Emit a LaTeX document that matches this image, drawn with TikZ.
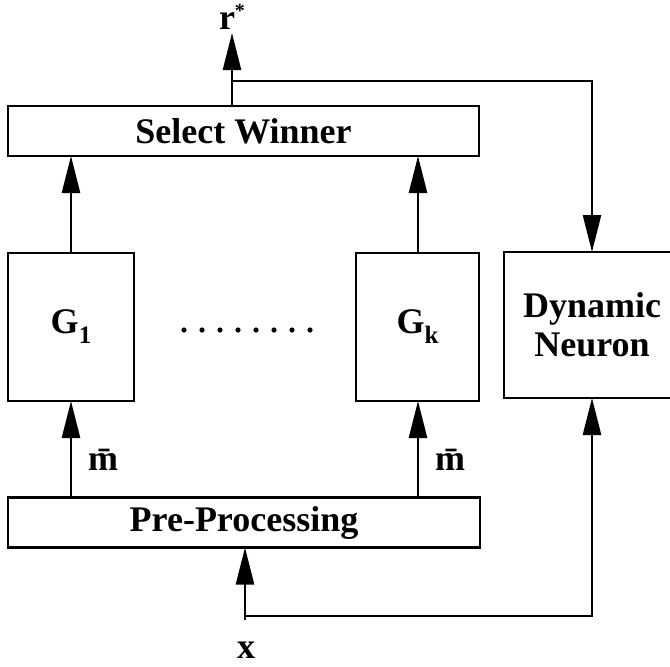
\documentclass[tikz,border=0pt]{standalone}
\usepackage{fontspec}
\setmainfont{Liberation Serif}
\usetikzlibrary{arrows.meta}
\newcommand\subidx[1]{\raisebox{-0.28em}{\fontsize{25}{25}\selectfont #1}}
\begin{document}
\begin{tikzpicture}[x=1pt,y=-1pt,
  box/.style={draw, line width=2.6pt, inner sep=0pt, outer sep=0pt,
    font=\bfseries\fontsize{36}{39}\selectfont, align=center},
  flow/.style={line width=2.6pt, -{Triangle[length=37pt,width=18pt]}},
  wire/.style={line width=2.6pt},
  lbl/.style={font=\bfseries\fontsize{36}{39}\selectfont, inner sep=0pt}]
\useasboundingbox (0,0) rectangle (670,667);

% blocks
\node[box, minimum width=471pt, minimum height=50pt] (sw) at (243.5,131) {Select Winner};
\node[box, minimum width=126pt, minimum height=148pt] (g1) at (71,327) {G\subidx{1}};
\node[box, minimum width=123pt, minimum height=148pt] (gk) at (417.5,327) {G\subidx{k}};
\node[box, minimum width=176pt, minimum height=146pt] (dn) at (592,325) {Dynamic\\Neuron};
\node[box, minimum width=472pt, minimum height=50pt] (pp) at (244,522.5) {Pre-Processing};

% ellipsis between the first and the last gate
\foreach \i in {0,...,7} \fill (184+18*\i,330) circle (2.6pt);

% output r*
\node[lbl] (rstar) at (232,17) {r\raisebox{0.35em}{\fontsize{20}{20}\selectfont *}};
\coordinate (rtip) at (232,33);
\coordinate (rbr) at (232,81);
\draw[flow] (sw.north -| rtip) -- (rtip);
\draw[flow] (rbr) -| (dn.north);

% gates into the selector
\draw[flow] (g1.north) -- (g1.north |- sw.south);
\draw[flow] (gk.north -| 418,0) -- (418,0 |- sw.south);

% pre-processed inputs
\draw[flow] (pp.north -| g1) -- (g1.south);
\node[lbl] (m1) at (103,460) {\={m}};
\draw[flow] (pp.north -| 418,0) -- (418,0 |- gk.south);
\node[lbl] (mk) at (450,460) {\={m}};

% input x
\node[lbl] (xin) at (246,650) {x};
\coordinate (xstart) at (245,620);
\coordinate (xbr) at (245,616);
\draw[flow] (xstart) -- (xstart |- pp.south);
\draw[flow] (xbr) -| (dn.south);
\end{tikzpicture}
\end{document}
